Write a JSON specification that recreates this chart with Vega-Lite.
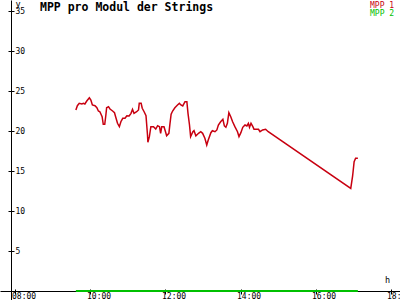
{
  "$schema": "https://vega.github.io/schema/vega-lite/v6.json",
  "width": 400,
  "height": 300,
  "padding": 0,
  "autosize": "none",
  "background": "white",
  "title": {
    "text": "MPP pro Modul der Strings",
    "anchor": "start",
    "frame": "group",
    "dx": 40,
    "offset": -14,
    "font": "DejaVu Sans Mono",
    "fontSize": 11.5,
    "fontWeight": "bold",
    "color": "black"
  },
  "config": {
    "view": {"stroke": null},
    "axis": {
      "domainColor": "black",
      "tickColor": "black",
      "labelColor": "black",
      "titleColor": "black",
      "labelFont": "DejaVu Sans Mono",
      "labelFontSize": 8,
      "titleFont": "DejaVu Sans Mono",
      "titleFontSize": 8.5,
      "titleFontWeight": "normal",
      "grid": false,
      "domainWidth": 1,
      "tickWidth": 1
    }
  },
  "data": {
    "values": [
      {"t": 9.61, "v": 22.63, "series": "MPP 1"},
      {"t": 9.65, "v": 23.16, "series": "MPP 1"},
      {"t": 9.70, "v": 23.46, "series": "MPP 1"},
      {"t": 9.77, "v": 23.38, "series": "MPP 1"},
      {"t": 9.81, "v": 23.46, "series": "MPP 1"},
      {"t": 9.85, "v": 23.38, "series": "MPP 1"},
      {"t": 9.90, "v": 23.75, "series": "MPP 1"},
      {"t": 9.97, "v": 24.16, "series": "MPP 1"},
      {"t": 10.01, "v": 23.88, "series": "MPP 1"},
      {"t": 10.05, "v": 23.25, "series": "MPP 1"},
      {"t": 10.12, "v": 23.16, "series": "MPP 1"},
      {"t": 10.17, "v": 22.91, "series": "MPP 1"},
      {"t": 10.21, "v": 22.5, "series": "MPP 1"},
      {"t": 10.25, "v": 22.41, "series": "MPP 1"},
      {"t": 10.31, "v": 21.79, "series": "MPP 1"},
      {"t": 10.34, "v": 20.84, "series": "MPP 1"},
      {"t": 10.38, "v": 20.84, "series": "MPP 1"},
      {"t": 10.41, "v": 22.0, "series": "MPP 1"},
      {"t": 10.43, "v": 22.91, "series": "MPP 1"},
      {"t": 10.48, "v": 23.04, "series": "MPP 1"},
      {"t": 10.52, "v": 22.75, "series": "MPP 1"},
      {"t": 10.59, "v": 22.5, "series": "MPP 1"},
      {"t": 10.64, "v": 22.29, "series": "MPP 1"},
      {"t": 10.67, "v": 21.79, "series": "MPP 1"},
      {"t": 10.72, "v": 20.96, "series": "MPP 1"},
      {"t": 10.77, "v": 20.54, "series": "MPP 1"},
      {"t": 10.81, "v": 21.16, "series": "MPP 1"},
      {"t": 10.86, "v": 21.59, "series": "MPP 1"},
      {"t": 10.92, "v": 21.59, "series": "MPP 1"},
      {"t": 10.97, "v": 21.91, "series": "MPP 1"},
      {"t": 11.03, "v": 21.88, "series": "MPP 1"},
      {"t": 11.08, "v": 22.21, "series": "MPP 1"},
      {"t": 11.12, "v": 22.71, "series": "MPP 1"},
      {"t": 11.16, "v": 22.21, "series": "MPP 1"},
      {"t": 11.23, "v": 22.41, "series": "MPP 1"},
      {"t": 11.28, "v": 22.63, "series": "MPP 1"},
      {"t": 11.30, "v": 23.46, "series": "MPP 1"},
      {"t": 11.35, "v": 23.46, "series": "MPP 1"},
      {"t": 11.38, "v": 22.84, "series": "MPP 1"},
      {"t": 11.43, "v": 22.41, "series": "MPP 1"},
      {"t": 11.48, "v": 21.91, "series": "MPP 1"},
      {"t": 11.52, "v": 19.5, "series": "MPP 1"},
      {"t": 11.53, "v": 18.59, "series": "MPP 1"},
      {"t": 11.57, "v": 19.29, "series": "MPP 1"},
      {"t": 11.61, "v": 20.54, "series": "MPP 1"},
      {"t": 11.68, "v": 20.54, "series": "MPP 1"},
      {"t": 11.74, "v": 20.25, "series": "MPP 1"},
      {"t": 11.79, "v": 20.66, "series": "MPP 1"},
      {"t": 11.84, "v": 20.54, "series": "MPP 1"},
      {"t": 11.87, "v": 19.71, "series": "MPP 1"},
      {"t": 11.90, "v": 20.54, "series": "MPP 1"},
      {"t": 11.96, "v": 20.54, "series": "MPP 1"},
      {"t": 12.00, "v": 19.91, "series": "MPP 1"},
      {"t": 12.03, "v": 19.41, "series": "MPP 1"},
      {"t": 12.09, "v": 19.71, "series": "MPP 1"},
      {"t": 12.12, "v": 20.96, "series": "MPP 1"},
      {"t": 12.15, "v": 22.09, "series": "MPP 1"},
      {"t": 12.19, "v": 22.5, "series": "MPP 1"},
      {"t": 12.25, "v": 22.91, "series": "MPP 1"},
      {"t": 12.32, "v": 23.25, "series": "MPP 1"},
      {"t": 12.37, "v": 23.46, "series": "MPP 1"},
      {"t": 12.41, "v": 23.25, "series": "MPP 1"},
      {"t": 12.46, "v": 23.13, "series": "MPP 1"},
      {"t": 12.52, "v": 23.66, "series": "MPP 1"},
      {"t": 12.57, "v": 23.66, "series": "MPP 1"},
      {"t": 12.60, "v": 22.21, "series": "MPP 1"},
      {"t": 12.64, "v": 20.75, "series": "MPP 1"},
      {"t": 12.67, "v": 19.29, "series": "MPP 1"},
      {"t": 12.73, "v": 19.91, "series": "MPP 1"},
      {"t": 12.76, "v": 20.04, "series": "MPP 1"},
      {"t": 12.81, "v": 19.38, "series": "MPP 1"},
      {"t": 12.88, "v": 19.71, "series": "MPP 1"},
      {"t": 12.94, "v": 19.91, "series": "MPP 1"},
      {"t": 12.99, "v": 19.71, "series": "MPP 1"},
      {"t": 13.05, "v": 19.09, "series": "MPP 1"},
      {"t": 13.10, "v": 18.25, "series": "MPP 1"},
      {"t": 13.14, "v": 18.88, "series": "MPP 1"},
      {"t": 13.21, "v": 19.79, "series": "MPP 1"},
      {"t": 13.25, "v": 20.04, "series": "MPP 1"},
      {"t": 13.32, "v": 19.91, "series": "MPP 1"},
      {"t": 13.37, "v": 20.13, "series": "MPP 1"},
      {"t": 13.41, "v": 20.75, "series": "MPP 1"},
      {"t": 13.47, "v": 21.16, "series": "MPP 1"},
      {"t": 13.53, "v": 21.46, "series": "MPP 1"},
      {"t": 13.57, "v": 20.63, "series": "MPP 1"},
      {"t": 13.61, "v": 20.46, "series": "MPP 1"},
      {"t": 13.65, "v": 20.96, "series": "MPP 1"},
      {"t": 13.69, "v": 22.29, "series": "MPP 1"},
      {"t": 13.74, "v": 21.79, "series": "MPP 1"},
      {"t": 13.79, "v": 21.16, "series": "MPP 1"},
      {"t": 13.85, "v": 20.54, "series": "MPP 1"},
      {"t": 13.92, "v": 19.91, "series": "MPP 1"},
      {"t": 13.96, "v": 19.29, "series": "MPP 1"},
      {"t": 14.01, "v": 19.79, "series": "MPP 1"},
      {"t": 14.06, "v": 20.46, "series": "MPP 1"},
      {"t": 14.12, "v": 20.75, "series": "MPP 1"},
      {"t": 14.17, "v": 20.63, "series": "MPP 1"},
      {"t": 14.21, "v": 20.96, "series": "MPP 1"},
      {"t": 14.24, "v": 20.46, "series": "MPP 1"},
      {"t": 14.28, "v": 20.96, "series": "MPP 1"},
      {"t": 14.33, "v": 20.54, "series": "MPP 1"},
      {"t": 14.36, "v": 20.21, "series": "MPP 1"},
      {"t": 14.48, "v": 20.21, "series": "MPP 1"},
      {"t": 14.52, "v": 19.91, "series": "MPP 1"},
      {"t": 14.59, "v": 20.13, "series": "MPP 1"},
      {"t": 14.67, "v": 20.21, "series": "MPP 1"},
      {"t": 14.74, "v": 19.91, "series": "MPP 1"},
      {"t": 16.94, "v": 12.83, "series": "MPP 1"},
      {"t": 16.99, "v": 14.38, "series": "MPP 1"},
      {"t": 17.03, "v": 16.16, "series": "MPP 1"},
      {"t": 17.07, "v": 16.59, "series": "MPP 1"},
      {"t": 17.13, "v": 16.59, "series": "MPP 1"},
      {"t": 9.61, "v": 0, "series": "MPP 2"},
      {"t": 11.0, "v": 0, "series": "MPP 2"},
      {"t": 12.5, "v": 0, "series": "MPP 2"},
      {"t": 14.74, "v": 0, "series": "MPP 2"},
      {"t": 16.94, "v": 0, "series": "MPP 2"},
      {"t": 17.13, "v": 0, "series": "MPP 2"}
    ]
  },
  "layer": [
    {
      "mark": {"type": "line", "interpolate": "linear"},
      "encoding": {
        "x": {
          "field": "t",
          "type": "quantitative",
          "scale": {"domain": [7.5867, 18.2533], "nice": false, "zero": false},
          "axis": {
            "orient": "bottom",
            "offset": -9,
            "values": [8, 10, 12, 14, 16, 18],
            "labelExpr": "(datum.value < 10 ? '0' : '') + datum.value + ':00'",
            "labelAlign": "left",
            "labelOffset": -4,
            "labelBaseline": "top",
            "labelPadding": -2,
            "tickSize": 3,
            "labelFlush": false,
            "labelOverlap": false,
            "title": "h",
            "titleX": 387,
            "titleY": -7,
            "titleAlign": "center",
            "titleBaseline": "bottom"
          }
        },
        "y": {
          "field": "v",
          "type": "quantitative",
          "scale": {"domain": [-1.125, 36.375], "nice": false, "zero": false},
          "axis": {
            "orient": "left",
            "offset": -11,
            "values": [5, 10, 15, 20, 25, 30, 35],
            "labelAlign": "left",
            "labelBaseline": "middle",
            "labelPadding": -7,
            "tickSize": 3,
            "labelFlush": false,
            "labelOverlap": false,
            "title": "y",
            "titleAngle": 0,
            "titleX": 4,
            "titleY": 8,
            "titleAlign": "left",
            "titleBaseline": "bottom"
          }
        },
        "color": {
          "field": "series",
          "type": "nominal",
          "scale": {"domain": ["MPP 1", "MPP 2"], "range": ["#c80010", "#00c000"]},
          "legend": {
            "orient": "none",
            "legendX": 362,
            "legendY": 2,
            "title": null,
            "symbolSize": 0,
            "symbolOpacity": 0,
            "symbolStrokeWidth": 0,
            "labelOffset": 0,
            "labelFont": "DejaVu Sans Mono",
            "labelFontSize": 8,
            "rowPadding": 0,
            "padding": 0,
            "encode": {
              "labels": {"update": {"fill": {"scale": "color", "field": "value"}}}
            }
          }
        },
        "strokeWidth": {
          "field": "series",
          "type": "nominal",
          "scale": {"domain": ["MPP 1", "MPP 2"], "range": [1.5, 2]},
          "legend": null
        }
      }
    },
    {
      "mark": {"type": "line", "opacity": 0},
      "encoding": {
        "x": {
          "field": "t",
          "type": "quantitative",
          "axis": {
            "orient": "bottom",
            "offset": -9,
            "values": [8, 10, 12, 14, 16, 18],
            "tickSize": -2,
            "labels": false,
            "domain": false,
            "title": null
          }
        },
        "y": {
          "field": "v",
          "type": "quantitative",
          "axis": {
            "orient": "left",
            "offset": -11,
            "values": [5, 10, 15, 20, 25, 30, 35],
            "tickSize": -3,
            "labels": false,
            "domain": false,
            "title": null
          }
        },
        "detail": {"field": "series"}
      }
    }
  ],
  "resolve": {"axis": {"x": "independent", "y": "independent"}}
}
